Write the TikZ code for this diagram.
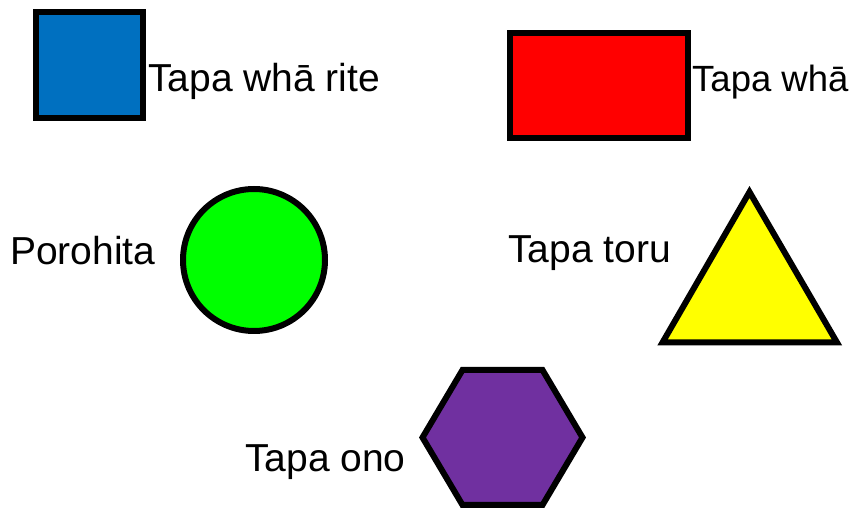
\documentclass[tikz,border=0pt]{standalone}
\usepackage{fontspec}
\setmainfont{Liberation Sans}
\begin{document}
\begin{tikzpicture}[x=1pt,y=-1pt,
  shapeline/.style={draw=black,line width=6pt,line join=miter},
  lbl/.style={anchor=base west,inner sep=0pt,font=\fontsize{39}{42}\selectfont}]
\useasboundingbox (0,0) rectangle (852,510);
\definecolor{cblue}{HTML}{0070C0}
\definecolor{cred}{HTML}{FF0000}
\definecolor{cgreen}{HTML}{00FF00}
\definecolor{cyellow}{HTML}{FFFF00}
\definecolor{cpurple}{HTML}{7030A0}
% square
\draw[shapeline,fill=cblue] (36,12) rectangle (142.5,118.5);
\node[lbl] (sq) at (148,92) {Tapa whā rite};
% rectangle
\draw[shapeline,fill=cred] (510,33) rectangle (688,138);
\node[lbl,font=\fontsize{36.5}{40}\selectfont] (re) at (692,92) {Tapa whā};
% circle
\draw[shapeline,fill=cgreen] (254,260) circle[radius=71];
\node[lbl] (ci) at (10,265) {Porohita};
% triangle
\draw[shapeline,fill=cyellow] (749.5,192) -- (837,342.5) -- (662.5,342.5) -- cycle;
\node[lbl] (tr) at (508,263) {Tapa toru};
% hexagon
\draw[shapeline,fill=cpurple] (422.5,437.5) -- (462.5,370) -- (542.5,370) -- (582.5,437.5) -- (542.5,505) -- (462.5,505) -- cycle;
\node[lbl] (hx) at (245,472) {Tapa ono};
\end{tikzpicture}
\end{document}
